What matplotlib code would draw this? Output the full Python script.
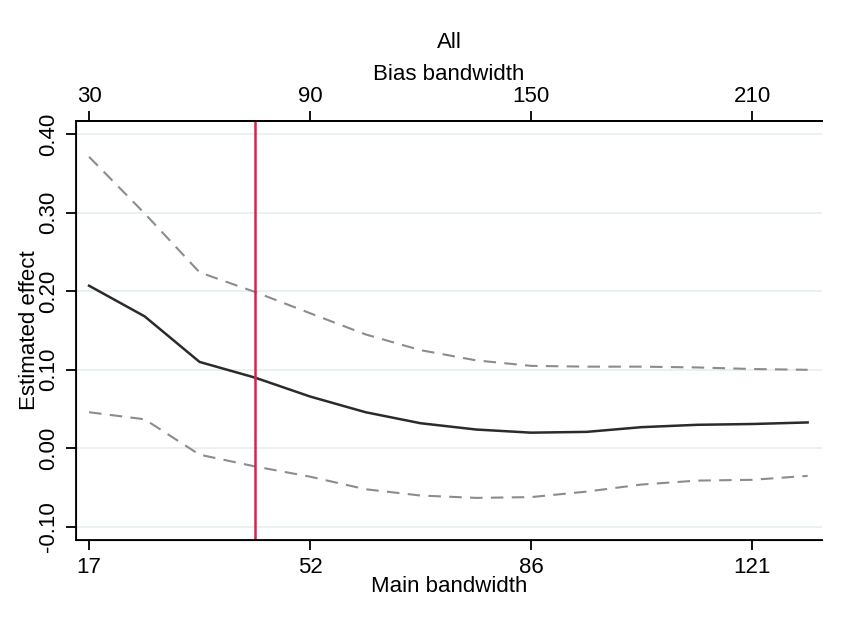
import matplotlib.pyplot as plt
import matplotlib.ticker as ticker

plt.rcParams['font.family'] = ['Liberation Sans', 'DejaVu Sans']
plt.rcParams['axes.unicode_minus'] = False

# bandwidth grid (top axis = bias, bottom axis = main)
bias_bw = [30, 45, 60, 75, 90, 105, 120, 135, 150, 165, 180, 195, 210, 225]
main_bw = [17.3, 26.0, 34.6, 43.3, 51.9, 60.6, 69.2, 77.9, 86.5, 95.2, 103.8, 112.5, 121.1, 129.8]

estimate = [0.207, 0.168, 0.110, 0.090, 0.066, 0.046, 0.032, 0.024, 0.020, 0.021, 0.027, 0.030, 0.031, 0.033]
ci_upper = [0.371, 0.299, 0.224, 0.199, 0.172, 0.145, 0.125, 0.112, 0.105, 0.104, 0.104, 0.103, 0.101, 0.100]
ci_lower = [0.046, 0.037, -0.008, -0.023, -0.036, -0.052, -0.060, -0.063, -0.062, -0.055, -0.046, -0.041, -0.040, -0.035]

chosen_bw = 43.3

main_ticks = [17.3, 51.9, 86.5, 121.1]
main_labels = ['17', '52', '86', '121']
bias_labels = ['30', '90', '150', '210']
y_ticks = [-0.10, 0.00, 0.10, 0.20, 0.30, 0.40]

fig = plt.figure(figsize=(8.42, 6.24), dpi=100)
ax = fig.add_axes([0.0903, 0.1346, 0.886, 0.6715])

for y in y_ticks:
    ax.axhline(y, color='#e6eff1', linewidth=1.2, zorder=0)

ax.plot(main_bw, ci_upper, color='#8c8c8c', linewidth=1.5, dashes=(6, 4))
ax.plot(main_bw, ci_lower, color='#8c8c8c', linewidth=1.5, dashes=(6, 4))
ax.plot(main_bw, estimate, color='#2b2b2b', linewidth=1.8)
ax.axvline(chosen_bw, color='#d7244f', linewidth=1.8)

ax.set_xlim(15.26, 132.06)
ax.set_ylim(-0.1166, 0.4166)

ax.set_xticks(main_ticks)
ax.set_xticklabels(main_labels)
ax.set_yticks(y_ticks)
ax.yaxis.set_major_formatter(ticker.StrMethodFormatter('{x:.2f}'))
for l in ax.get_yticklabels():
    l.set_rotation(90)
    l.set_va('center')

ax.spines['right'].set_visible(False)
for s in ['left', 'top', 'bottom']:
    ax.spines[s].set_linewidth(1.3)
ax.tick_params(axis='both', direction='out', length=7, width=1.3, labelsize=16, pad=5)
ax.tick_params(axis='y', pad=5)

ax.set_xlabel('Main bandwidth', fontsize=16, va='center')
ax.xaxis.set_label_coords(0.5, -0.11)
ax.set_ylabel('Estimated effect', fontsize=16, va='center')
ax.yaxis.set_label_coords(-0.062, 0.5)

top = ax.twiny()
top.set_xlim(ax.get_xlim())
top.set_xticks(main_ticks)
top.set_xticklabels(bias_labels)
top.spines['right'].set_visible(False)
top.spines['top'].set_linewidth(1.3)
top.tick_params(axis='x', direction='out', length=7, width=1.3, labelsize=16, pad=3)
top.set_xlabel('Bias bandwidth', fontsize=16, va='center')
top.xaxis.set_label_coords(0.5, 1.11)
top.set_title('All', fontsize=16, y=1.188, va='center', pad=0)

fig.savefig('out.png', dpi=100, facecolor='white')
